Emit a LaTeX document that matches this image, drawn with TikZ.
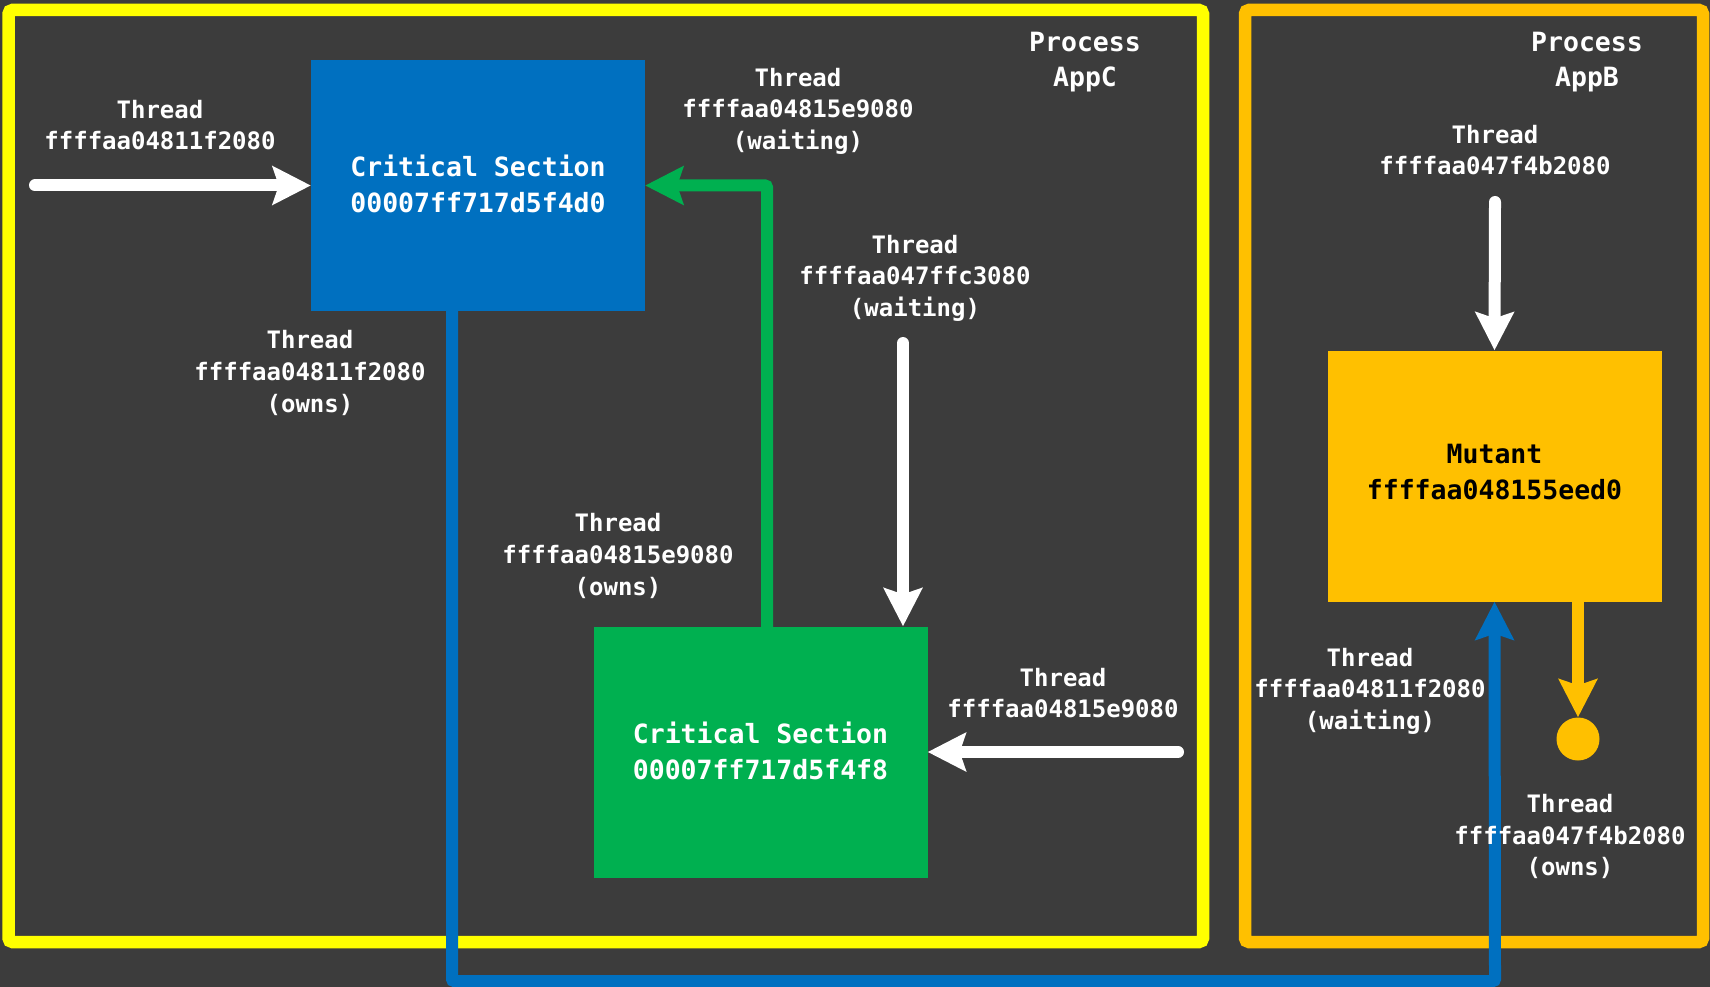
\documentclass[tikz,border=0pt]{standalone}
\usepackage{fontspec}
\usetikzlibrary{arrows.meta}
\newfontfamily\cons{DejaVu Sans Mono}
\definecolor{bgc}{HTML}{3C3C3C}
\definecolor{ylw}{HTML}{FFFF00}
\definecolor{org}{HTML}{FFC000}
\definecolor{csblue}{HTML}{0070C0}
\definecolor{csgreen}{HTML}{00B050}
\tikzset{
  boxnode/.style={minimum width=334pt, minimum height=251pt, inner sep=0pt, align=center,
    font=\cons\bfseries\fontsize{26.5}{36}\selectfont},
  lbl/.style={text=white, align=center, inner sep=0pt,
    font=\cons\bfseries\fontsize{24}{31.6}\selectfont},
  proc/.style={text=white, align=center, inner sep=0pt,
    font=\cons\bfseries\fontsize{26.5}{35}\selectfont},
  frame/.style={line width=12.5pt, rounded corners=4pt},
  conn/.style={line width=12pt, line cap=round, rounded corners=3pt,
    -{Stealth[length=38pt, width=38pt, inset=6pt]}},
  plainconn/.style={line width=12pt, rounded corners=2pt,
    -{Stealth[length=38pt, width=38pt, inset=6pt]}}
}
\begin{document}
\begin{tikzpicture}[x=1pt, y=-1pt]
\fill[bgc] (0,0) rectangle (1710,987);
\useasboundingbox (0,0) rectangle (1710,987);
% process frames
\draw[frame, ylw] (8.5,10) rectangle (1203,942);
\draw[frame, org] (1245,10) rectangle (1703,942);
% boxes
\node[boxnode, fill=csblue, text=white, text depth=0pt] (cs1) at (478,185.5) {};
\node[font=\cons\bfseries\fontsize{26.5}{36}\selectfont, text=white, align=center, inner sep=0pt] (cs1t) at (cs1.center) [yshift=2pt] {Critical Section\\00007ff717d5f4d0};
\node[boxnode, fill=csgreen, text=white] (cs2) at (760.5,752) {};
\node[font=\cons\bfseries\fontsize{26.5}{36}\selectfont, text=white, align=center, inner sep=0pt] (cs2t) at (cs2.center) [yshift=1.5pt] {Critical Section\\00007ff717d5f4f8};
\node[boxnode, fill=org, text=black] (mut) at (1494.5,476) {};
\node[font=\cons\bfseries\fontsize{26.5}{36}\selectfont, text=black, align=center, inner sep=0pt] (mutt) at (mut.center) [yshift=3.5pt] {Mutant\\ffffaa048155eed0};
\node[circle, fill=org, minimum size=43pt, inner sep=0pt] (dot) at (1578,739) {};
% coordinates
\coordinate (a0) at (35,185.5);
\coordinate (g0) at (767,627);
\coordinate (b0) at (452,311);
\coordinate (b1) at (452,981);
\coordinate (b2) at (1495,981);
\coordinate (c0) at (903,343);
\coordinate (d0) at (1178,752);
\coordinate (f0) at (1495,202);
\coordinate (o0) at (1578,601);
% connectors
\draw[plainconn, csblue] (b0) -- (b1) -- (b2) -- (mut.south);
\draw[conn, white] (a0) -- (cs1.west);
\draw[plainconn, csgreen] (g0) |- (cs1.east);
\draw[conn, white] (c0) -- (c0 |- cs2.north);
\draw[conn, white] (d0) -- (cs2.east);
\draw[conn, white] (f0) -- (mut.north);
\draw[plainconn, org] (o0) -- (dot.north);
% labels
\node[proc] (pc) at (1085,62) {Process\\AppC};
\node[proc] (pb) at (1587,62) {Process\\AppB};
\node[lbl] (l1) at (160,125) {Thread\\ffffaa04811f2080};
\node[lbl] (l2) at (310,373) {Thread\\ffffaa04811f2080\\(owns)};
\node[lbl] (l3) at (798,111) {Thread\\ffffaa04815e9080\\(waiting)};
\node[lbl] (l4) at (915,278) {Thread\\ffffaa047ffc3080\\(waiting)};
\node[lbl] (l5) at (618,556) {Thread\\ffffaa04815e9080\\(owns)};
\node[lbl] (l6) at (1063,693) {Thread\\ffffaa04815e9080};
\node[lbl] (l7) at (1495,150) {Thread\\ffffaa047f4b2080};
\node[lbl] (l8) at (1370,691) {Thread\\ffffaa04811f2080\\(waiting)};
\node[lbl] (l9) at (1570,836.5) {Thread\\ffffaa047f4b2080\\(owns)};
\end{tikzpicture}
\end{document}
